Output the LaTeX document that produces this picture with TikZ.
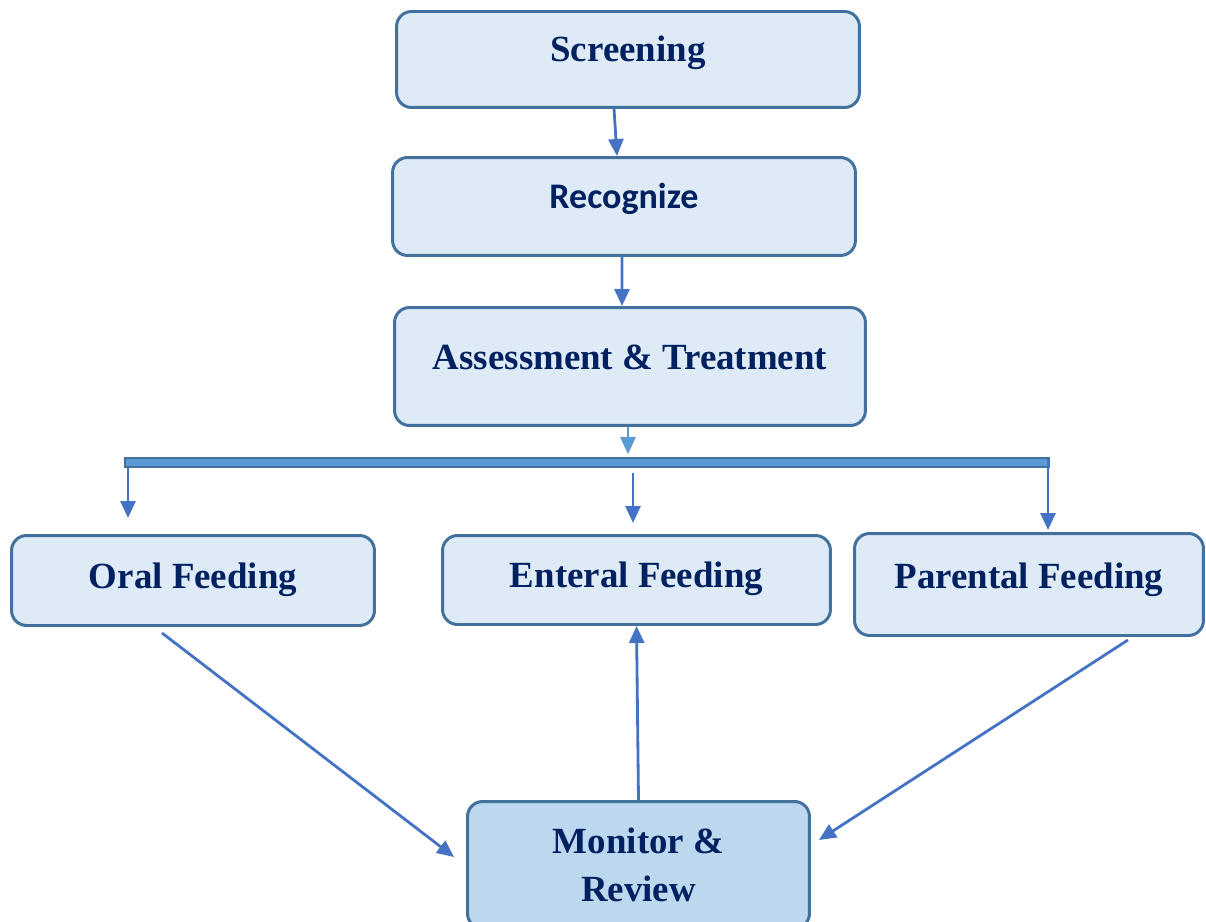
\documentclass[tikz,border=0pt]{standalone}
\usepackage{fontspec}
\setmainfont{Liberation Serif}
\newfontfamily\calibrifont{Carlito}
\usetikzlibrary{arrows.meta}

\definecolor{boxfill}{HTML}{DEEBF7}
\definecolor{boxline}{HTML}{41719C}
\definecolor{arrowblue}{HTML}{4472C4}
\definecolor{barblue}{HTML}{5B9BD5}
\definecolor{monfill}{HTML}{BDD7EE}
\definecolor{navy}{HTML}{002060}

\begin{document}
\begin{tikzpicture}[x=0.02cm,y=-0.02cm,
  box/.style={rectangle,draw=boxline,line width=1.7pt,rounded corners=0.3cm,
              fill=boxfill,text=navy,
              font=\fontsize{21}{25.2}\selectfont\bfseries},
  oneline/.style={text height=0.5cm,text depth=#1},
  arr/.style={-{Triangle[length=0.34cm,width=0.3cm]},line width=1.6pt,arrowblue},
]
  \useasboundingbox (0,0) rectangle (1206,922);

  % Steps
  \node[box,oneline=0.4cm,minimum width=9.26cm,minimum height=1.92cm]
    (scr) at (628,59.5) {Screening};
  \node[box,oneline=0.4cm,minimum width=9.26cm,minimum height=1.96cm,
        font=\fontsize{20.5}{24.6}\calibrifont\bfseries]
    (rec) at (624,206.5) {Recognize};
  \node[box,oneline=0.4cm,minimum width=9.42cm,minimum height=2.36cm]
    (ass) at (630,366.5) {Assessment \& Treatment};

  % Split bar
  \node[rectangle,draw=boxline,line width=0.9pt,fill=barblue,inner sep=0pt,
        minimum width=18.48cm,minimum height=0.18cm] (bar) at (587,462.5) {};

  % Feeding routes
  \node[box,oneline=0.2cm,minimum width=7.26cm,minimum height=1.8cm]
    (oral) at (193,580.5) {Oral Feeding};
  \node[box,oneline=0.2cm,minimum width=7.76cm,minimum height=1.78cm]
    (ent) at (636.5,580) {Enteral Feeding};
  \node[box,oneline=0.36cm,minimum width=6.98cm,minimum height=2.04cm]
    (par) at (1029,584.5) {Parental Feeding};

  % Review
  \node[box,fill=monfill,align=center,minimum width=6.84cm,minimum height=2.54cm]
    (mon) at (638.5,865) {Monitor \&\\[2pt]Review};

  \coordinate (oraltip) at (128,518);
  \coordinate (enttip)  at (633,523);
  \coordinate (partip)  at (1048,530);

  % Arrows
  \draw[arr] ([xshift=-0.28cm]scr.south) -- ([xshift=-0.14cm]rec.north);
  \draw[arr] ([xshift=-0.04cm]rec.south) -- ([xshift=-0.16cm]ass.north);
  \draw[arr,barblue,shorten >=0.06cm] ([xshift=-0.04cm]ass.south)
    -- ([xshift=-0.04cm]ass.south |- bar.north);
  \draw[arr] (oraltip |- bar.south) -- (oraltip);
  \draw[arr,shorten <=0.1cm] (enttip |- bar.south) -- (enttip);
  \draw[arr] (partip |- bar.north) -- (partip);

  \draw[arr] ([xshift=-0.62cm,yshift=-0.12cm]oral.south)
    -- ([xshift=-0.24cm,yshift=0.16cm]mon.west);
  \draw[arr] (mon.north) -- (ent.south);
  \draw[arr] ([xshift=1.98cm,yshift=-0.06cm]par.south)
    -- ([xshift=0.16cm,yshift=0.5cm]mon.east);
\end{tikzpicture}
\end{document}
